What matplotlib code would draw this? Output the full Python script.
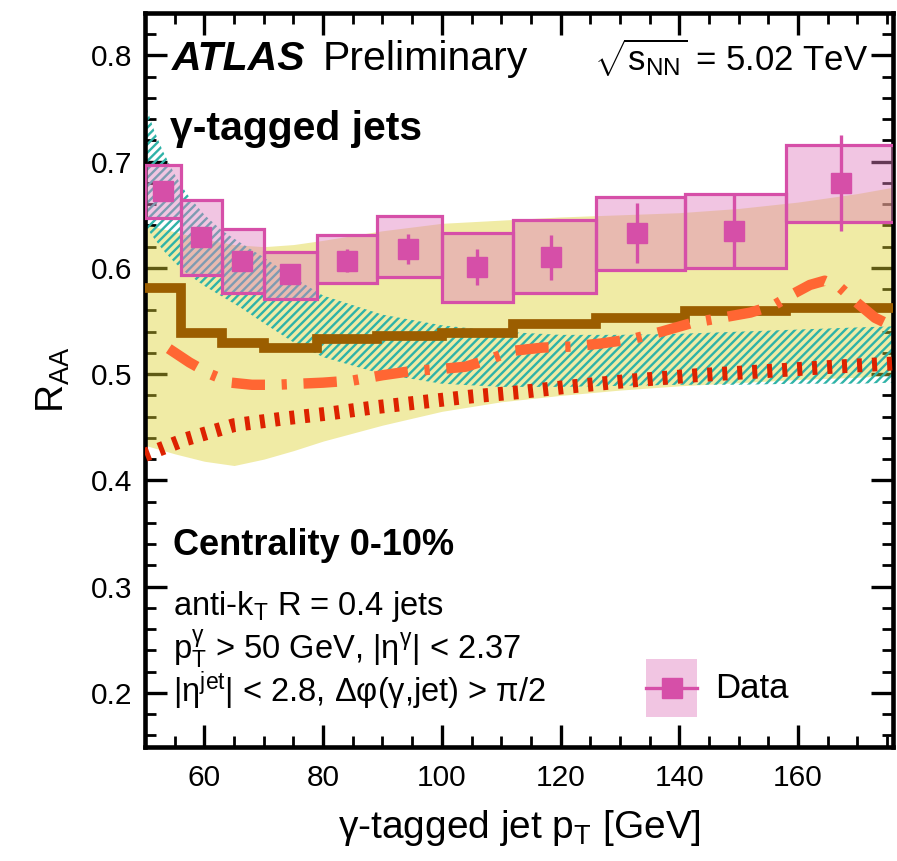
import matplotlib
matplotlib.use("Agg")
import matplotlib.pyplot as plt
from matplotlib.patches import Rectangle
from matplotlib.ticker import MultipleLocator

plt.rcParams['font.family'] = ['Liberation Sans', 'DejaVu Sans']
plt.rcParams['mathtext.fontset'] = 'custom'
plt.rcParams['mathtext.rm'] = 'Liberation Sans'
plt.rcParams['mathtext.it'] = 'Liberation Sans:italic'
plt.rcParams['mathtext.bf'] = 'Liberation Sans:bold'
plt.rcParams['hatch.linewidth'] = 1.7

# data points (pT bins, R_AA, stat and sys)
bin_edges = [50, 56, 63, 70, 79, 89, 100, 112, 126, 141, 158, 178]
data_x = [53, 59.5, 66.3, 74.4, 84, 94.3, 105.9, 118.4, 132.8, 149.3, 167.3]
data_y = [0.672, 0.629, 0.607, 0.594, 0.607, 0.618, 0.601, 0.610, 0.633, 0.635, 0.680]
stat_err = [0.005, 0.005, 0.006, 0.007, 0.011, 0.014, 0.017, 0.021, 0.028, 0.034, 0.045]
sys_hi = [0.697, 0.664, 0.637, 0.615, 0.631, 0.649, 0.633, 0.645, 0.667, 0.670, 0.716]
sys_lo = [0.647, 0.593, 0.576, 0.571, 0.586, 0.591, 0.568, 0.576, 0.598, 0.600, 0.643]

# brown step curve
brown_vals = [0.581, 0.539, 0.529, 0.525, 0.533, 0.536, 0.539, 0.547, 0.553, 0.559, 0.562]

# orange dash-dot curve
orange_x = [54, 57.5, 61, 64.5, 68, 72, 76, 80, 85, 90, 95, 100, 104, 108, 112, 117, 122,
            127, 132, 137, 142, 147, 152, 156, 159, 162, 164.5, 167, 170, 173, 176]
orange_y = [0.524, 0.511, 0.500, 0.492, 0.490, 0.490, 0.491, 0.492, 0.494, 0.499, 0.503,
            0.505, 0.507, 0.514, 0.522, 0.525, 0.526, 0.529, 0.533, 0.540, 0.548, 0.553,
            0.558, 0.565, 0.575, 0.584, 0.588, 0.582, 0.567, 0.553, 0.545]

# red dotted curve
red_x = [50, 57, 65, 73, 81, 89, 97, 105, 113, 121, 132, 143, 155, 166, 176]
red_y = [0.424, 0.439, 0.452, 0.458, 0.463, 0.469, 0.474, 0.479, 0.483, 0.488, 0.494,
         0.499, 0.503, 0.507, 0.510]

# yellow band
yel_x = [50, 55, 60, 65, 70, 75, 80, 90, 100, 110, 120, 130, 140, 150, 160, 170, 176]
yel_hi = [0.641, 0.634, 0.627, 0.622, 0.620, 0.622, 0.626, 0.635, 0.642, 0.645, 0.648,
          0.650, 0.652, 0.656, 0.662, 0.670, 0.676]
yel_lo = [0.433, 0.425, 0.418, 0.414, 0.420, 0.428, 0.437, 0.452, 0.465, 0.474, 0.480,
          0.485, 0.489, 0.492, 0.495, 0.497, 0.499]

# cyan hatched band
cy_x = [50, 51.5, 53, 55, 57, 60, 63, 66, 70, 75, 80, 90, 100, 110, 120, 130, 140,
        150, 160, 170, 176]
cy_hi = [0.755, 0.730, 0.710, 0.688, 0.670, 0.650, 0.635, 0.624, 0.610, 0.591, 0.574,
         0.556, 0.546, 0.540, 0.537, 0.537, 0.538, 0.540, 0.542, 0.544, 0.545]
cy_lo = [0.640, 0.628, 0.617, 0.605, 0.595, 0.583, 0.573, 0.563, 0.548, 0.530, 0.516,
         0.500, 0.491, 0.488, 0.488, 0.489, 0.490, 0.490, 0.491, 0.491, 0.492]

mag = '#d64fa8'
yellow = '#ddd12f'
teal = '#2fb3a8'
brown = '#9b5e00'
orange = '#ff6633'
red = '#dd2200'
pink = '#e07fbf'

fig = plt.figure(figsize=(8.97, 8.61), dpi=100)
ax = fig.add_axes([0.1617, 0.1324, 0.8338, 0.8525])

ax.fill_between(yel_x, yel_lo, yel_hi, color=yellow, alpha=0.43, lw=0, zorder=1.6)
ax.fill_between(cy_x, cy_lo, cy_hi, facecolor='none', edgecolor=teal, hatch='////',
                lw=0, zorder=2)

# systematic boxes
for i in range(len(data_x)):
    x0 = bin_edges[i]
    w = bin_edges[i + 1] - bin_edges[i]
    ax.add_patch(Rectangle((x0, sys_lo[i]), w, sys_hi[i] - sys_lo[i], facecolor=pink,
                           alpha=0.45, lw=0, zorder=3))
    ax.add_patch(Rectangle((x0, sys_lo[i]), w, sys_hi[i] - sys_lo[i], facecolor='none',
                           edgecolor=mag, lw=2.3, zorder=3.5))

ax.stairs(brown_vals, bin_edges, baseline=None, color=brown, lw=7, zorder=4)
ax.plot(orange_x, orange_y, color=orange, lw=7.5, ls=(0, (3.2, 1.6, 0.5, 1.6)), zorder=5)
ax.plot(red_x, red_y, color=red, lw=10, ls=(0, (0.36, 0.72)), zorder=5)

ax.errorbar(data_x, data_y, yerr=stat_err, fmt='s', color=mag, ms=14, elinewidth=2.4,
            capsize=0, zorder=6)

ax.set_xlim(50, 176)
ax.set_ylim(0.149, 0.84)
ax.xaxis.set_major_locator(MultipleLocator(20))
ax.xaxis.set_minor_locator(MultipleLocator(5))
ax.yaxis.set_major_locator(MultipleLocator(0.1))
ax.yaxis.set_minor_locator(MultipleLocator(0.02))
ax.tick_params(which='both', direction='in', top=True, right=True, labelsize=21.5)
ax.tick_params(which='major', length=16, width=2.4)
ax.tick_params(which='minor', length=8, width=2)
ax.tick_params(axis='x', pad=12)
ax.tick_params(axis='y', pad=9)
for s in ax.spines.values():
    s.set_linewidth(3.3)

ax.set_xlabel('γ-tagged jet p$_\\mathrm{T}$ [GeV]', fontsize=28, labelpad=12)
ax.set_ylabel('R$_\\mathrm{AA}$', fontsize=28, labelpad=14)

tr = ax.transAxes
ax.text(0.036, 0.922, 'ATLAS', fontsize=29.5, fontweight='bold', fontstyle='italic',
        transform=tr)
ax.text(0.238, 0.922, 'Preliminary', fontsize=29.5, transform=tr)
ax.text(0.967, 0.920, '$\\sqrt{\\mathrm{s}_\\mathrm{NN}}$ = 5.02 TeV', fontsize=25,
        ha='right', transform=tr)
ax.text(0.033, 0.827, 'γ-tagged jets', fontsize=29.5, fontweight='bold', transform=tr)
ax.text(0.037, 0.262, 'Centrality 0-10%', fontsize=26, fontweight='bold', transform=tr)
ax.text(0.037, 0.180, 'anti-k$_\\mathrm{T}$ R = 0.4 jets', fontsize=23.5, transform=tr)
ax.text(0.037, 0.121, 'p$_\\mathrm{T}^\\mathrm{γ}$ > 50 GeV, |η$^\\mathrm{γ}$| < 2.37',
        fontsize=23.5, transform=tr)
ax.text(0.037, 0.061, '|η$^\\mathrm{jet}$| < 2.8, Δφ(γ,jet) > π/2', fontsize=23.5,
        transform=tr)

# legend
ax.add_patch(Rectangle((0.670, 0.041), 0.068, 0.079, transform=tr, facecolor=pink,
                       alpha=0.45, lw=0, zorder=7))
ax.plot([0.670, 0.738], [0.080, 0.080], transform=tr, color=mag, lw=2.4, zorder=8)
ax.plot([0.704], [0.080], transform=tr, marker='s', color=mag, ms=14, zorder=8)
ax.text(0.762, 0.080, 'Data', fontsize=25, va='center', transform=tr)

fig.savefig('out.png', dpi=100)
